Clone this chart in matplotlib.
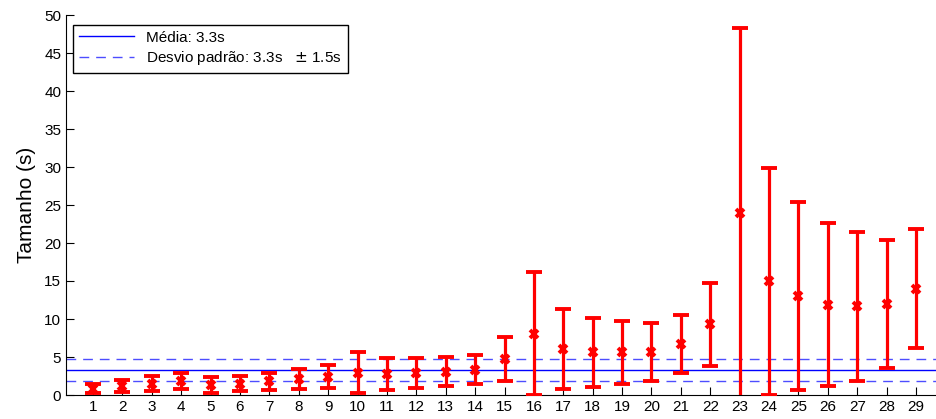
import numpy as np
import matplotlib
matplotlib.use('Agg')
import matplotlib.pyplot as plt

plt.rcParams['font.family'] = ['Liberation Sans', 'DejaVu Sans']

# sample ids and mean +/- std of each one (s)
ids = list(range(1, 30))
means = [0.85, 1.15, 1.5, 1.87, 1.32, 1.51, 1.78, 2.13, 2.41, 2.94,
         2.74, 2.89, 3.07, 3.33, 4.72, 8.05, 6.0, 5.62, 5.6, 5.7,
         6.69, 9.3, 23.9, 14.95, 13.0, 11.9, 11.65, 11.97, 14.0]
stds = [0.62, 0.8, 0.95, 1.08, 1.1, 1.03, 1.12, 1.3, 1.49, 2.72,
        2.08, 1.93, 1.89, 1.93, 2.88, 8.1, 5.27, 4.52, 4.15, 3.82,
        3.84, 5.48, 24.4, 14.95, 12.35, 10.7, 9.8, 8.47, 7.8]
overall_mean = 3.3
overall_std = 1.5

fig = plt.figure(figsize=(9.36, 4.19), dpi=100)
ax = fig.add_axes([66 / 936, 24 / 419, 1 - 66 / 936, (395 - 15) / 419])

ax.axhline(overall_mean, color='#0000ff', lw=1, label='Média: 3.3s')
ax.axhline(overall_mean + overall_std, color='#4d4dff', lw=1, ls=(0, (7, 5)),
           label='Desvio padrão: 3.3s   $\\pm$ 1.5s')
ax.axhline(overall_mean - overall_std, color='#4d4dff', lw=1, ls=(0, (7, 5)))

ax.errorbar(ids, means, yerr=stds, fmt='x', color='#ff0000', ecolor='#ff0000',
            elinewidth=2.3, capsize=6, capthick=2.3, markersize=6, mew=2.8,
            zorder=3)

ax.set_xlim(0.08, 29.68)
ax.set_ylim(0, 50)
ax.set_xticks(ids)
ax.set_yticks(np.arange(0, 51, 5))
ax.tick_params(direction='in', labelsize=11, length=6, width=0.8)
ax.spines['top'].set_visible(False)
ax.spines['right'].set_visible(False)
ax.set_ylabel('Tamanho (s)', fontsize=15, labelpad=6)

leg = ax.legend(loc='upper left', bbox_to_anchor=(0.008, 0.975), fontsize=11,
                handlelength=3.6, fancybox=False, framealpha=1,
                borderaxespad=0, borderpad=0.4, labelspacing=0.3)
leg.get_frame().set_edgecolor('black')
leg.get_frame().set_linewidth(1)

fig.savefig('out.png', dpi=100)
